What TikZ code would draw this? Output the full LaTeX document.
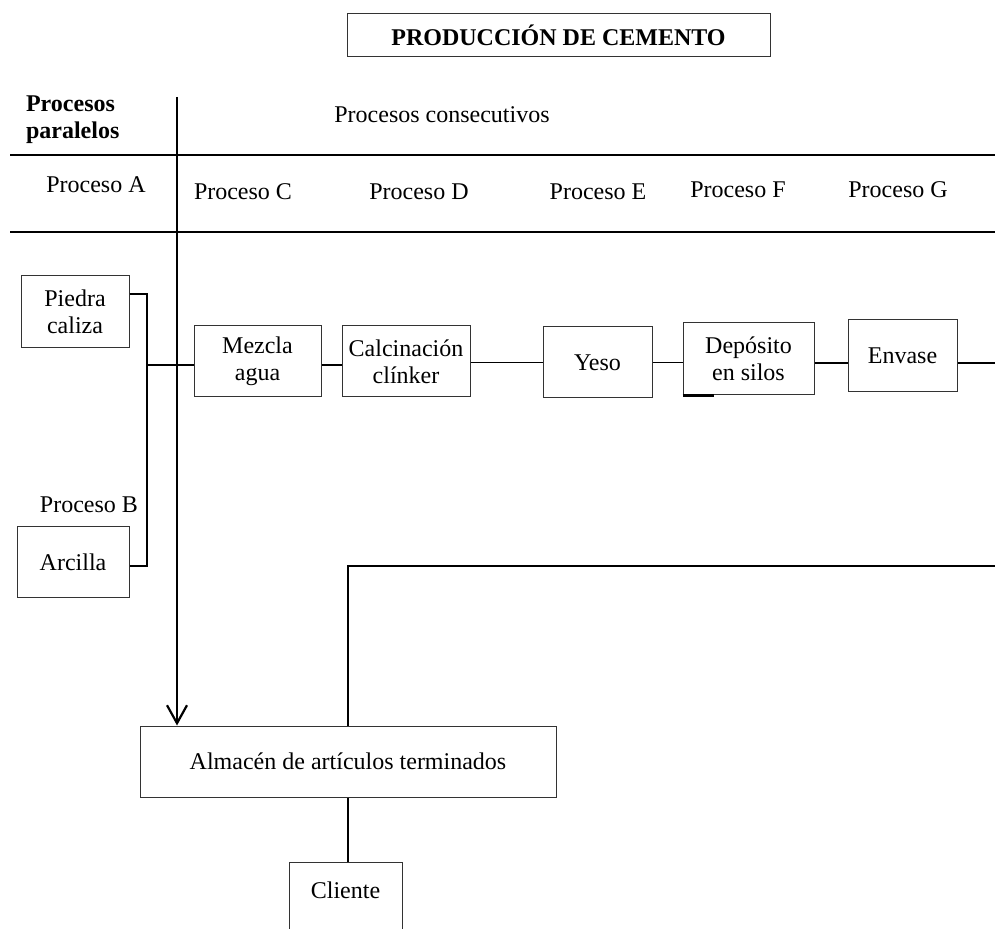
\documentclass[tikz,border=0pt]{standalone}
\usepackage{fontspec}
\setmainfont{Liberation Serif}
\usetikzlibrary{arrows.meta}
\begin{document}
\begin{tikzpicture}[x=0.5pt, y=-0.5pt,
    every node/.style={font=\fontsize{12}{13.5}\selectfont, align=center},
    box/.style={draw=black!80, line width=0.5pt, inner sep=0pt},
    conn/.style={black, line width=0.8pt},
    mainline/.style={black, line width=1.1pt}]
    \clip (0, 0) rectangle (995, 929);
    \node[box, minimum width=211.5pt, minimum height=21.5pt, font=\fontsize{12}{13.5}\selectfont\bfseries] (title) at (558.5, 35.5) {PRODUCCIÓN DE CEMENTO};
    \node[anchor=west, align=left, font=\fontsize{12}{13.5}\selectfont\bfseries] (par) at (19, 120) {Procesos\\paralelos};
    \node (cons) at (442, 115) {Procesos consecutivos};
    \node (pA) at (96, 185) {Proceso A};
    \node (pC) at (243, 192) {Proceso C};
    \node (pD) at (419, 192) {Proceso D};
    \node (pE) at (598, 192) {Proceso E};
    \node (pF) at (738, 190) {Proceso F};
    \node (pG) at (898, 190) {Proceso G};
    \node[anchor=east] (pB) at (145, 505) {Proceso B};
    \node[box, minimum width=54pt, minimum height=36pt] (piedra) at (75, 312) {Piedra\\caliza};
    \node[box, minimum width=56pt, minimum height=35.5pt] (arcilla) at (73, 562) {Arcilla};
    \node[box, minimum width=63.5pt, minimum height=35.5pt] (mezcla) at (257.5, 361.5) {Mezcla\\agua};
    \node[box, minimum width=64pt, minimum height=35.5pt] (calc) at (406, 361.5) {Calcinación\\clínker};
    \node[box, minimum width=54.5pt, minimum height=35.5pt] (yeso) at (597.5, 362.5) {Yeso};
    \node[box, minimum width=65.5pt, minimum height=36pt] (dep) at (748.5, 359) {Depósito\\en silos};
    \node[box, minimum width=54.5pt, minimum height=36pt] (env) at (902.5, 356) {Envase};
    \node[box, minimum width=208pt, minimum height=35.5pt] (alm) at (348, 761.5) {Almacén de artículos terminados};
    \node[box, minimum width=56.5pt, minimum height=40pt, anchor=north] (cli) at (345.5, 862) {};
    \node (clitxt) at (345.5, 890) {Cliente};
    \coordinate (hAl) at (10, 155);
    \coordinate (hAr) at (995, 155);
    \coordinate (hBl) at (10, 232);
    \coordinate (hBr) at (995, 232);
    \coordinate (top) at (177, 97);
    \coordinate (junc) at (147, 365);
    \coordinate (outG) at (995, 363);
    \coordinate (retG) at (995, 566);
    \draw[mainline] (hAl) -- (hAr);
    \draw[mainline] (hBl) -- (hBr);
    \draw[mainline, -{Straight Barb[length=9pt, width=10pt]}] (top) -- (top |- alm.north);
    \draw[conn] ([yshift=9pt]piedra.east) -| (junc) |- ([yshift=-2pt]arcilla.east);
    \draw[conn] (junc) -- (junc -| mezcla.west);
    \draw[conn] (mezcla.east |- junc) -- (calc.west |- junc);
    \draw[conn] (calc.east |- yeso.east) -- (yeso.west);
    \draw[conn] (yeso.east) -- (yeso.east -| dep.west);
    \draw[conn] (dep.east |- outG) -- (env.west |- outG);
    \draw[conn] (env.east |- outG) -- (outG);
    \draw[conn, line width=1.1pt] (dep.south west) -- ++(31, 0);
    \draw[conn] (retG) -| (alm.north);
    \draw[conn] (alm.south) -- (alm.south |- cli.north);
\end{tikzpicture}
\end{document}
